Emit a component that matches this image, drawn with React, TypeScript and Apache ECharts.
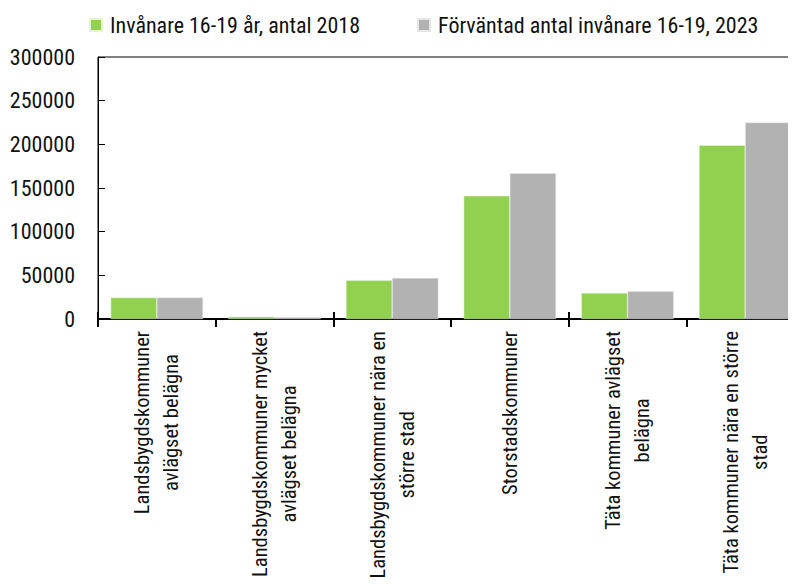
import React, { useEffect, useRef } from "react";
import * as echarts from "echarts";

const categories = [
  "Landsbygdskommuner\navlägset belägna",
  "Landsbygdskommuner mycket\navlägset belägna",
  "Landsbygdskommuner nära en\nstörre stad",
  "Storstadskommuner",
  "Täta kommuner avlägset\nbelägna",
  "Täta kommuner nära en större\nstad",
];
const series2018 = [24500, 2600, 44300, 141000, 29800, 199000];
const series2023 = [24500, 2000, 47000, 167000, 31700, 225000];
const seriesNames = ["Invånare 16-19 år, antal 2018", "Förväntad antal invånare 16-19, 2023"];
const yTicks = { min: 0, max: 300000, interval: 50000 };

const FONT = "'Roboto Condensed', 'Liberation Sans', sans-serif";

export default function App() {
  const ref = useRef<HTMLDivElement>(null);
  useEffect(() => {
    if (!ref.current) return;
    const chart = echarts.init(ref.current, undefined, { renderer: "svg" });
    chart.setOption({
      animation: false,
      textStyle: { fontFamily: FONT },
      legend: {
        left: 84,
        top: 9,
        width: 760,
        itemWidth: 12,
        itemHeight: 12,
        itemGap: 57,
        icon: "rect",
        textStyle: { fontFamily: FONT, fontSize: 22, color: "#111", padding: [0, 0, 0, 3] },
        data: seriesNames,
      },
      grid: {
        left: 98,
        top: 57,
        right: -8,
        bottom: 266,
        containLabel: false,
        outerBoundsMode: "none",
        show: true,
        borderColor: "#000",
        borderWidth: 1,
      },
      xAxis: [
        {
          type: "category",
          data: categories,
          axisLine: { lineStyle: { color: "#000", width: 2 } },
          axisTick: { show: true, inside: false, length: 8, lineStyle: { color: "#000", width: 2 } },
          axisLabel: {
            rotate: 90,
            margin: 12,
            interval: 0,
            color: "#111",
            fontFamily: FONT,
            fontSize: 20.5,
            lineHeight: 29,
            formatter: (v: string) => v.split("\n").map((l) => `{c|${l}}`).join("\n"),
            rich: { c: { align: "center", fontFamily: FONT, fontSize: 20.5, lineHeight: 29, color: "#111" } },
          },
        },
        {
          type: "category",
          data: categories,
          position: "bottom",
          axisLine: { show: false },
          axisTick: { show: true, inside: true, length: 7, lineStyle: { color: "#000", width: 2 } },
          axisLabel: { show: false },
        },
      ],
      yAxis: {
        type: "value",
        min: yTicks.min,
        max: yTicks.max,
        interval: yTicks.interval,
        splitLine: { show: false },
        axisLine: { show: true, lineStyle: { color: "#000", width: 1 } },
        axisTick: { show: true, inside: true, length: 7, lineStyle: { color: "#000" } },
        axisLabel: {
          margin: 23,
          color: "#111",
          fontFamily: FONT,
          fontSize: 22,
          formatter: (v: number) => String(v),
        },
      },
      series: [
        {
          name: seriesNames[0],
          type: "bar",
          data: series2018,
          barGap: "0%",
          barCategoryGap: "21.5%",
          itemStyle: { color: "#92D050", borderColor: "#e8f5da", borderWidth: 0.5 },
        },
        {
          name: seriesNames[1],
          type: "bar",
          data: series2023,
          barGap: "0%",
          barCategoryGap: "21.5%",
          itemStyle: { color: "#B2B2B2", borderColor: "#e6e6e6", borderWidth: 0.5 },
        },
      ],
    });
    return () => chart.dispose();
  }, []);
  return <div ref={ref} style={{ width: 796, height: 585, margin: -8 }} />;
}
